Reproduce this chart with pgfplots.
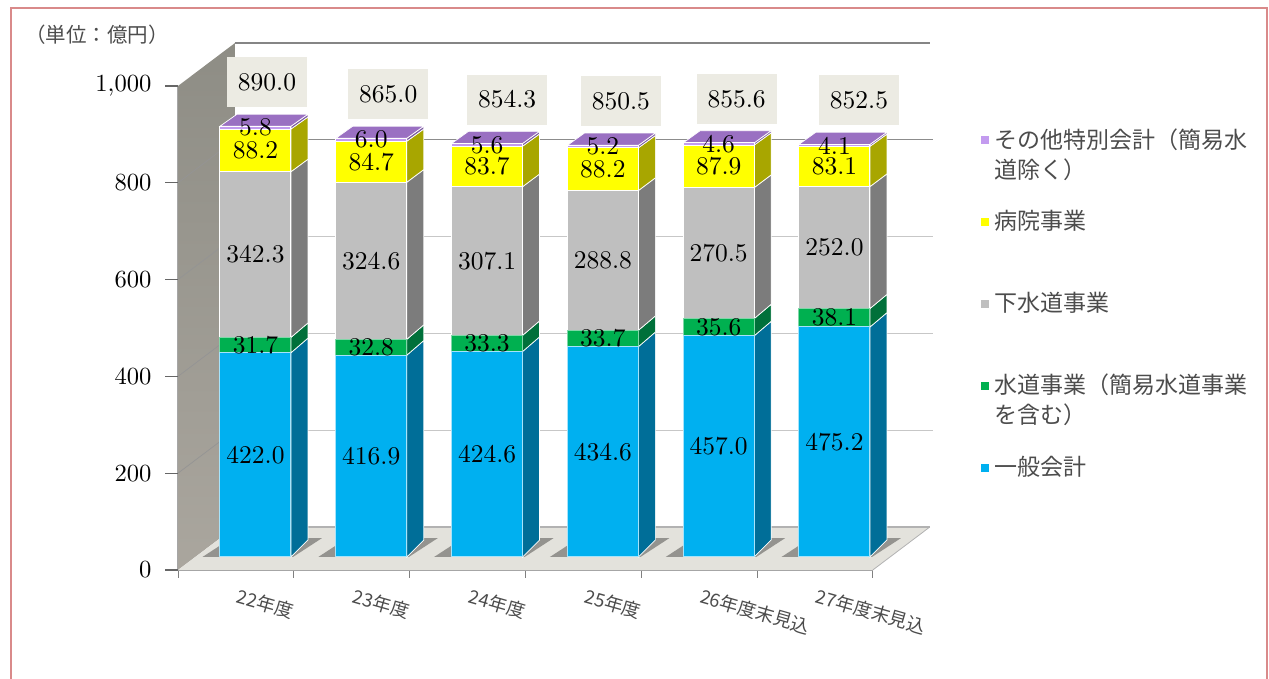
\documentclass[border=0pt]{standalone}
\usepackage{fontspec}
\usepackage{graphicx}
\usepackage{pgfplots}
\usepackage{pgfplotstable}
\pgfplotsset{compat=1.18}
\newfontfamily\cjk{Noto Sans CJK JP}
\definecolor{blueF}{HTML}{00B0F0}\definecolor{blueS}{HTML}{006E98}
\definecolor{greenF}{HTML}{00B050}\definecolor{greenS}{HTML}{00703A}
\definecolor{grayF}{HTML}{BFBFBF}\definecolor{grayS}{HTML}{7C7C7C}
\definecolor{yellowF}{HTML}{FFFF00}\definecolor{yellowS}{HTML}{A8A600}
\definecolor{purpleF}{HTML}{C39BEF}\definecolor{purpleS}{HTML}{7C5CA0}\definecolor{purpleT}{HTML}{9A70C2}
\definecolor{boxF}{HTML}{ECEBE3}\definecolor{floorF}{HTML}{E3E2DC}
\definecolor{frameR}{HTML}{D98A8A}
\definecolor{wallT}{HTML}{8E8D85}\definecolor{wallB}{HTML}{AAA69E}

% series by fiscal year
\pgfplotstableread{
k  ippan suido gesui byoin sonota total off
0  422.0 31.7  342.3 88.2  5.8    890.0 11.5
1  416.9 32.8  324.6 84.7  6.0    865.0 17
2  424.6 33.3  307.1 83.7  5.6    854.3 20
3  434.6 33.7  288.8 88.2  5.2    850.5 18
4  457.0 35.6  270.5 87.9  4.6    855.6 18
5  475.2 38.1  252.0 83.1  4.1    852.5 24.5
}\budget

% one side face of a stacked block, seen in oblique projection
\newcommand\sideface[3]{%
  \pgfmathsetmacro\xa{#1+0.3066}\pgfmathsetmacro\xb{#1+0.3066+0.1468}%
  \pgfmathsetmacro\yaa{#2}\pgfmathsetmacro\yba{#3}%
  \pgfmathsetmacro\yab{#2+(17-0.0056*#2)/0.484}\pgfmathsetmacro\ybb{#3+(17-0.0056*#3)/0.484}%
}
\newcommand\seg[4]{% k, lower, upper, colour
  \sideface{#1}{#2}{#3}%
  \addplot[fill=#4,draw=white,line width=0.7pt] coordinates {(\xa,\yaa)(\xb,\yab)(\xb,\ybb)(\xa,\yba)} --cycle;
}
% side faces and lid of one bar: k, then the five parts from the bottom
\newcommand\barfaces[6]{%
  \pgfmathsetmacro\ca{#2}\pgfmathsetmacro\cb{\ca+#3}\pgfmathsetmacro\cc{\cb+#4}\pgfmathsetmacro\cd{\cc+#5}\pgfmathsetmacro\ce{\cd+#6}%
  % floor shadow
  \pgfmathsetmacro\sl{#1-0.4577}\pgfmathsetmacro\sr{#1+0.3238}\pgfmathsetmacro\slb{#1-0.2073}\pgfmathsetmacro\srb{#1+0.5742}%
  \addplot[fill=black!35!floorF,draw=none] coordinates {(\sl,0)(\sr,0)(\srb,39)(\slb,39)} --cycle;
  \seg{#1}{0}{\ca}{blueS}\seg{#1}{\ca}{\cb}{greenS}\seg{#1}{\cb}{\cc}{grayS}\seg{#1}{\cc}{\cd}{yellowS}\seg{#1}{\cd}{\ce}{purpleS}%
  \pgfmathsetmacro\xl{#1-0.3066}\pgfmathsetmacro\xlb{#1-0.3066+0.1468}\pgfmathsetmacro\xr{#1+0.3066}\pgfmathsetmacro\xrb{#1+0.3066+0.1468}%
  \pgfmathsetmacro\tb{\ce+(17-0.0056*\ce)/0.484}%
  \addplot[fill=purpleT,draw=white,line width=0.7pt] coordinates {(\xl,\ce)(\xr,\ce)(\xrb,\tb)(\xlb,\tb)} --cycle;
}

\pgfplotsset{
  chartbox/.style={scale only axis,width=694.8pt,height=484pt,
    xmin=-0.669,xmax=5.331,ymin=0,ymax=1000,clip=false},
  onedigit/.style={/pgf/number format/fixed,/pgf/number format/fixed zerofill,
    /pgf/number format/precision=1,/pgf/number format/assume math mode=true},
  bignum/.style={nodes near coords={\scalebox{2.55}{\pgfmathprintnumber{\pgfplotspointmeta}}}},
}
\begin{document}
\begin{tikzpicture}[x=1pt,y=1pt]
\useasboundingbox (0,0) rectangle (1269,679);
% page frame
\draw[frameR,line width=2pt] (11,-2) -- (11,671) -- (1267,671) -- (1267,-2);
\node[anchor=west,inner sep=0,text=black!70,font=\cjk\fontsize{20.5}{22}\selectfont] at (25,644) {（単位：億円）};

% walls, floor, gridlines and tick marks
\begin{axis}[chartbox,at={(178pt,109pt)},anchor=south west,
  axis x line=bottom,axis y line=left,axis line style={-,draw=black!35,line width=1.6pt},
  tick align=outside,ytick align=outside,
  tick style={draw=black!50,line width=0.8pt},
  major tick length=8pt,
  ytick={0,200,400,600,800,1000},
  xtick={-0.669,0.331,1.331,2.331,3.331,4.331,5.331},
  xticklabels={22年度,23年度,24年度,25年度,26年度末見込,27年度末見込,{}},
  xticklabel style={font=\cjk\fontsize{18.5}{20}\selectfont,text=black!70,rotate=-16,anchor=west,xshift=59pt,yshift=-1pt},
  yticklabel={\scalebox{2.46}{\pgfmathprintnumber{\tick}}},
  yticklabel style={xshift=-15pt},
  /pgf/number format/1000 sep={,},
  /pgf/number format/assume math mode=true,
]
\addplot[top color=wallT,bottom color=wallB,draw=none,forget plot] coordinates {(-0.669,0)(-0.177,88.8)(-0.177,1088.8)(-0.669,1000)} --cycle;
\addplot[fill=floorF,draw=none] coordinates {(-0.669,0)(5.331,0)(5.823,88.8)(-0.177,88.8)} --cycle;
\addplot[draw=black!30,line width=1.6pt] coordinates {(-0.177,88.8)(5.823,88.8)};
\addplot[draw=black!30,line width=0.8pt] coordinates {(5.331,0)(5.823,88.8)};
% back-wall gridlines
\addplot[draw=black!48,line width=1.2pt] coordinates {(-0.177,1088.8)(5.823,1088.8)};
\addplot[draw=black!45,line width=1pt] coordinates {(-0.177,888.8)(5.85,888.8)};
\addplot[draw=black!22,line width=1pt] coordinates {(-0.177,688.8)(5.85,688.8)};
\addplot[draw=black!22,line width=1pt] coordinates {(-0.177,488.8)(5.85,488.8)};
\addplot[draw=black!22,line width=1pt] coordinates {(-0.177,288.8)(5.85,288.8)};
% gridlines across the side wall
\addplot[draw=black!42,line width=0.7pt] coordinates {(-0.669,800)(-0.177,888.8)};
\addplot[draw=black!42,line width=0.7pt] coordinates {(-0.669,600)(-0.177,688.8)};
\addplot[draw=black!42,line width=0.7pt] coordinates {(-0.669,400)(-0.177,488.8)};
\addplot[draw=black!42,line width=0.7pt] coordinates {(-0.669,200)(-0.177,288.8)};
% outer tick strokes on the value axis
\addplot[draw=black!60,line width=1.2pt] coordinates {(-0.781,0)(-0.669,0)};
\addplot[draw=black!60,line width=1.2pt] coordinates {(-0.781,200)(-0.669,200)};
\addplot[draw=black!60,line width=1.2pt] coordinates {(-0.781,400)(-0.669,400)};
\addplot[draw=black!60,line width=1.2pt] coordinates {(-0.781,600)(-0.669,600)};
\addplot[draw=black!60,line width=1.2pt] coordinates {(-0.781,800)(-0.669,800)};
\addplot[draw=black!60,line width=1.2pt] coordinates {(-0.781,1000)(-0.669,1000)};
\end{axis}

% side faces, lids and the boxed totals
\begin{axis}[chartbox,at={(178pt,122pt)},anchor=south west,hide axis,onedigit]
\barfaces{0}{422.0}{31.7}{342.3}{88.2}{5.8}
\barfaces{1}{416.9}{32.8}{324.6}{84.7}{6.0}
\barfaces{2}{424.6}{33.3}{307.1}{83.7}{5.6}
\barfaces{3}{434.6}{33.7}{288.8}{88.2}{5.2}
\barfaces{4}{457.0}{35.6}{270.5}{87.9}{4.6}
\barfaces{5}{475.2}{38.1}{252.0}{83.1}{4.1}
\addplot[only marks,mark=none,point meta=y,
  visualization depends on={\thisrow{off}\as\boxoff},
  bignum,
  every node near coord/.style={anchor=center,fill=boxF,minimum width=80pt,minimum height=50pt,inner sep=0pt,
    xshift=\boxoff pt,yshift=44pt}]
  table[x=k,y=total]{\budget};
\end{axis}

% front faces, value labels and legend
\begin{axis}[chartbox,at={(178pt,122pt)},anchor=south west,hide axis,onedigit,
  ybar stacked,bar width=71pt,
  point meta=explicit,
  bignum,
  every node near coord/.style={anchor=center,inner sep=0pt,text=black},
  reverse legend,
  legend style={at={(1.1557,0.886)},anchor=north west,draw=none,fill=none,inner sep=0pt,
    font=\cjk\fontsize{23}{30}\selectfont,text=black!70,row sep=61pt,
    nodes={inner sep=0pt}},
  legend cell align=left,
  legend image code/.code={\fill[#1,draw=none] (0pt,-5.5pt) rectangle (8pt,2.5pt);},
]
\addplot[fill=blueF,draw=white!65!blueF,line width=1pt] table[x=k,y=ippan,meta=ippan]{\budget};
\addplot[fill=greenF,draw=white!50!greenF,line width=1pt] table[x=k,y=suido,meta=suido]{\budget};
\addplot[fill=grayF,draw=white,line width=1pt] table[x=k,y=gesui,meta=gesui]{\budget};
\addplot[fill=yellowF,draw=white,line width=1pt] table[x=k,y=byoin,meta=byoin]{\budget};
\addplot[fill=purpleF,draw=white,line width=1pt] table[x=k,y=sonota,meta=sonota]{\budget};
\addlegendentry{\hspace*{5pt}\parbox[t]{262pt}{一般会計}}
\addlegendentry{\hspace*{5pt}\parbox[t]{262pt}{水道事業（簡易水道事業\\を含む）}}
\addlegendentry{\hspace*{5pt}\parbox[t]{262pt}{下水道事業}}
\addlegendentry{\hspace*{5pt}\parbox[t]{262pt}{病院事業}}
\addlegendentry{\hspace*{5pt}\parbox[t]{262pt}{その他特別会計（簡易水\\道除く）}}
\end{axis}
\end{tikzpicture}
\end{document}
